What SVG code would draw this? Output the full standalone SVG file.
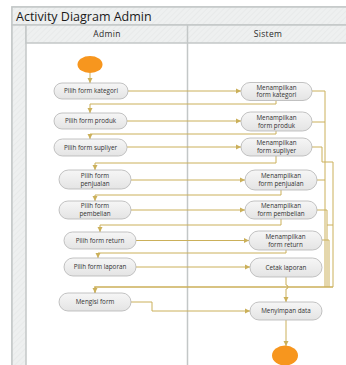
<svg xmlns="http://www.w3.org/2000/svg" width="346" height="365" viewBox="0 0 346 365">
<style>
.frame{fill:#ffffff;stroke:#c3c7c7;stroke-width:1.5}
.bar{fill:url(#hatch);stroke:#c3c7c7;stroke-width:1.5}
.lane{fill:none;stroke:#c3c7c7;stroke-width:1.5}
.node rect{fill:url(#ng);stroke:#b4b4b4;stroke-width:0.8}
.node text{font-family:"Open Sans","Noto Sans",sans-serif;font-size:6.3px;fill:#333;text-anchor:middle}
.hdr{font-family:"Open Sans","Noto Sans",sans-serif;font-size:8.5px;fill:#2a2a2a;text-anchor:middle;letter-spacing:0.3px}
.title{font-family:"Open Sans","Noto Sans",sans-serif;font-size:12.5px;fill:#1a1a1a}
.c{fill:none;stroke:#cbb05a;stroke-width:1}
.a{fill:none;stroke:#cbb05a;stroke-width:1;marker-end:url(#arr)}
.dot{fill:#f7961e}
</style>
<defs>
<pattern id="hatch" width="4" height="4" patternUnits="userSpaceOnUse" patternTransform="rotate(45)">
<rect width="4" height="4" fill="#eef0f0"/>
<line x1="0" y1="0" x2="0" y2="4" stroke="#e2e5e5" stroke-width="1"/>
</pattern>
<linearGradient id="ng" x1="0" y1="0" x2="0" y2="1">
<stop offset="0" stop-color="#f6f6f6"/>
<stop offset="1" stop-color="#e4e4e4"/>
</linearGradient>
<marker id="arr" markerWidth="6" markerHeight="6" refX="5" refY="3" orient="auto" markerUnits="userSpaceOnUse">
<path d="M0,0.5 L5,3 L0,5.5 Z" fill="#cbb05a"/>
</marker>
</defs>

<g id="frame">
<rect class="frame" x="12" y="7" width="340" height="365"/>
<rect class="bar" x="12" y="7" width="340" height="18"/>
<text class="title" x="16" y="20.5">Activity Diagram Admin</text>
<rect class="bar" x="12" y="25" width="14" height="345"/>
<rect class="bar" x="26" y="25" width="326" height="18"/>
<line class="lane" x1="187.5" y1="25" x2="187.5" y2="365"/>
<text class="hdr" x="107" y="37">Admin</text>
<text class="hdr" x="268" y="37">Sistem</text>
</g>

<g id="connectors">
<path class="a" d="M90,73 V83"/>
<path class="a" d="M128,91 H241"/>
<path class="a" d="M276,100.5 V104 H90 V113"/>
<path class="a" d="M127,121 H241"/>
<path class="a" d="M276,131 V134 H90 V139"/>
<path class="a" d="M127,147 H241"/>
<path class="a" d="M276,156 V163 H95 V170"/>
<path class="a" d="M131,180 H245"/>
<path class="a" d="M281,190 V195 H95 V201"/>
<path class="a" d="M131,210 H245"/>
<path class="a" d="M281,219 V225 H100 V232"/>
<path class="a" d="M136,240.5 H249"/>
<path class="a" d="M286,250 V253 H98 V258"/>
<path class="a" d="M136,267 H250"/>
<path class="a" d="M286,277 V285 A2,2 0 0 1 286,289 V302"/>
<path class="a" d="M131,302 H152 V311 H250"/>
<path class="a" d="M286,320 V346"/>
<path class="c" d="M312,91 H325 V287"/>
<path class="c" d="M312,122 H325"/>
<path class="c" d="M317,180 H325"/>
<path class="c" d="M312,147 H322 V162 H333 V287"/>
<path class="c" d="M317,210 H327 V287"/>
<path class="c" d="M327,225 H333"/>
<path class="c" d="M322,240 H329 V287"/>
<path class="a" d="M333,287 H95 V293" style="stroke-width:1.6"/>
</g>

<g id="start"><ellipse class="dot" cx="90" cy="64.5" rx="12.5" ry="8.5"/></g>
<g id="end"><ellipse class="dot" cx="285" cy="355.5" rx="13" ry="10"/></g>

<g id="a1" class="node"><rect x="54" y="83" width="74" height="16" rx="8"/><text x="91" y="93.2">Pilih form kategori</text></g>
<g id="a2" class="node"><rect x="54" y="113" width="73" height="16" rx="8"/><text x="90.5" y="123.2">Pilih form produk</text></g>
<g id="a3" class="node"><rect x="54" y="139" width="73" height="17" rx="8.5"/><text x="90.5" y="149.7">Pilih form supliyer</text></g>
<g id="a4" class="node"><rect x="59" y="170" width="72" height="19" rx="9.5"/><text x="95" y="177.8">Pilih form</text><text x="95" y="185.6">penjualan</text></g>
<g id="a5" class="node"><rect x="59" y="201" width="72" height="18" rx="9"/><text x="95" y="208.3">Pilih form</text><text x="95" y="216.1">pembelian</text></g>
<g id="a6" class="node"><rect x="64" y="232" width="72" height="17" rx="8.5"/><text x="100" y="242.7">Pilih form return</text></g>
<g id="a7" class="node"><rect x="64" y="258" width="72" height="18" rx="9"/><text x="100" y="269.2">Pilih form laporan</text></g>
<g id="a8" class="node"><rect x="59" y="293" width="72" height="18" rx="9"/><text x="95" y="304.2">Mengisi form</text></g>

<g id="s1" class="node"><rect x="241" y="82.5" width="71" height="18" rx="9"/><text x="276.5" y="89.6">Menampilkan</text><text x="276.5" y="97.4">form kategori</text></g>
<g id="s2" class="node"><rect x="241" y="112" width="71" height="19" rx="9.5"/><text x="276.5" y="119.8">Menampilkan</text><text x="276.5" y="127.6">form produk</text></g>
<g id="s3" class="node"><rect x="241" y="138" width="71" height="18" rx="9"/><text x="276.5" y="145.3">Menampilkan</text><text x="276.5" y="153.1">form supliyer</text></g>
<g id="s4" class="node"><rect x="245" y="170" width="72" height="20" rx="10"/><text x="281" y="178">Menampilkan</text><text x="281" y="185.8">form penjualan</text></g>
<g id="s5" class="node"><rect x="245" y="201" width="72" height="18" rx="9"/><text x="281" y="208.3">Menampilkan</text><text x="281" y="216.1">form pembelian</text></g>
<g id="s6" class="node"><rect x="249" y="231" width="73" height="19" rx="9.5"/><text x="285.5" y="238.8">Menampilkan</text><text x="285.5" y="246.6">form return</text></g>
<g id="s7" class="node"><rect x="250" y="258" width="72" height="19" rx="9.5"/><text x="286" y="269.7">Cetak laporan</text></g>
<g id="s8" class="node"><rect x="250" y="302" width="72" height="18" rx="9"/><text x="286" y="313.2">Menyimpan data</text></g>
</svg>
